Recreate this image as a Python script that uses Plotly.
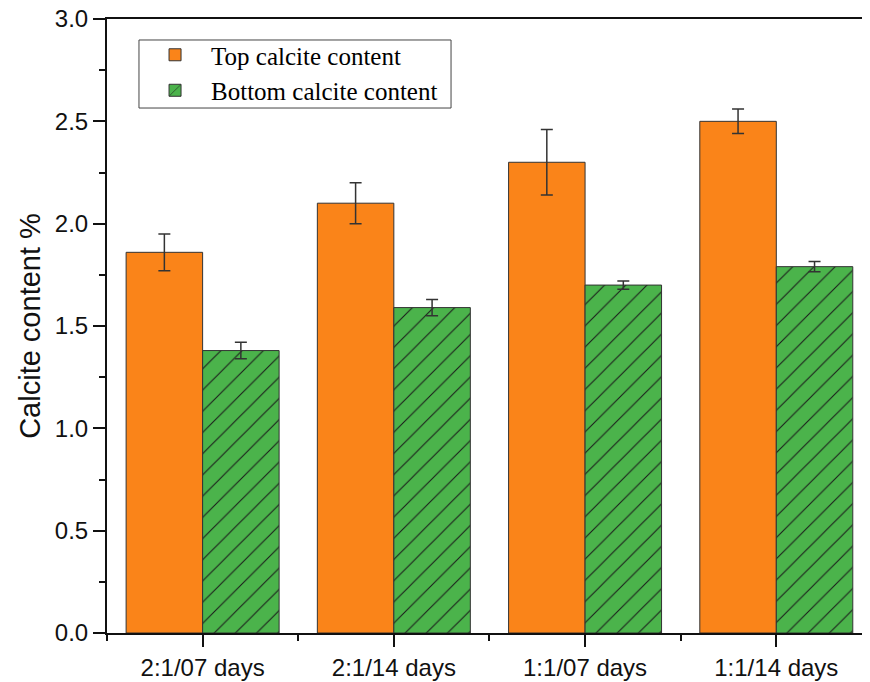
import plotly.graph_objects as go

categories = ["2:1/07 days", "2:1/14 days", "1:1/07 days", "1:1/14 days"]
top_values = [1.86, 2.10, 2.30, 2.50]
top_errors = [0.09, 0.10, 0.16, 0.06]
bottom_values = [1.38, 1.59, 1.70, 1.79]
bottom_errors = [0.04, 0.04, 0.02, 0.025]
y_ticks = [0.0, 0.5, 1.0, 1.5, 2.0, 2.5, 3.0]

x_pos = list(range(len(categories)))

fig = go.Figure()
fig.add_trace(go.Bar(
    x=x_pos, y=top_values, name="Top calcite content",
    marker=dict(color="#FA8419", line=dict(color="#333333", width=1)),
    error_y=dict(type="data", array=top_errors, visible=True,
                 color="#333333", thickness=1.5, width=6),
))
fig.add_trace(go.Bar(
    x=x_pos, y=bottom_values, name="Bottom calcite content",
    marker=dict(color="#4BB34B", line=dict(color="#333333", width=1),
                pattern=dict(shape="/", fgcolor="#1a1a1a", bgcolor="#4BB34B",
                             size=15, solidity=0.07, fillmode="replace")),
    error_y=dict(type="data", array=bottom_errors, visible=True,
                 color="#333333", thickness=1.5, width=6),
))

tick_font = dict(family="Liberation Sans, Arial, sans-serif", size=24, color="#111111")

# legend frame
fig.add_shape(type="rect", xref="paper", yref="paper",
              x0=0.0419, x1=0.4509, y0=0.855, y1=0.9658,
              line=dict(color="#444444", width=1), fillcolor="white", layer="above")

fig.update_layout(
    width=862, height=674,
    margin=dict(l=99, r=0, t=11, b=49),
    paper_bgcolor="white", plot_bgcolor="white",
    barmode="group", bargap=0.2, bargroupgap=0,
    showlegend=True,
    legend=dict(
        x=0.042, y=0.9788, xanchor="left", yanchor="top",
        font=dict(family="Liberation Serif, Times New Roman, serif", size=25, color="#000000"),
        borderwidth=0, bgcolor="rgba(0,0,0,0)",
        itemwidth=62, tracegroupgap=0,
    ),
    xaxis=dict(
        range=[-0.5, 3.49], automargin=False,
        tickmode="array", tickvals=x_pos, ticktext=categories,
        ticks="outside", ticklen=12, tickwidth=1.5, tickcolor="#111111",
        showline=True, linecolor="#111111", linewidth=2, mirror=True,
        showgrid=False, zeroline=False,
        tickfont=tick_font, ticklabeloverflow="allow",
        minor=dict(tickmode="array", tickvals=[-0.5, 0.5, 1.5, 2.5],
                   ticks="outside", ticklen=6, tickwidth=1.5, tickcolor="#111111"),
    ),
    yaxis=dict(
        range=[0, 3.0], automargin=False,
        tickmode="array", tickvals=y_ticks, ticktext=[f"{v:.1f}" for v in y_ticks],
        ticks="outside", ticklen=12, tickwidth=1.5, tickcolor="#111111",
        showline=True, linecolor="#111111", linewidth=2, mirror=False,
        showgrid=False, zeroline=False,
        tickfont=tick_font, ticklabeloverflow="allow",
        minor=dict(dtick=0.25, tick0=0, ticks="outside", ticklen=6,
                   tickwidth=1.5, tickcolor="#111111"),
        title=dict(text="Calcite content %",
                   font=dict(family="Liberation Sans, Arial, sans-serif", size=29, color="#111111"),
                   standoff=6),
    ),
)

fig.write_html("out.html")
